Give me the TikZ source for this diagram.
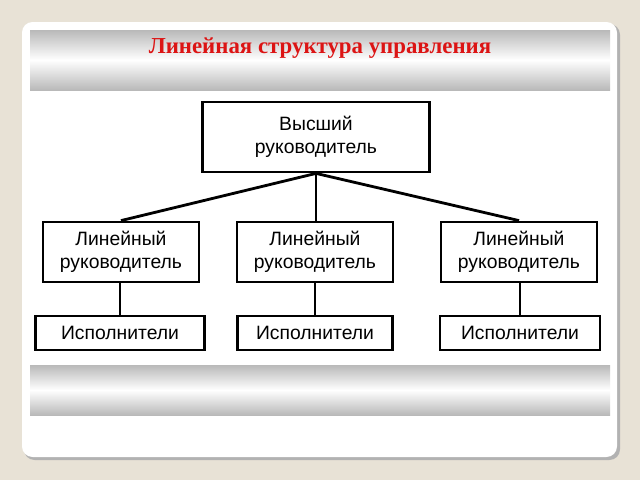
\documentclass[tikz,border=0pt]{standalone}
\usepackage{fontspec}
\setmainfont{Liberation Serif}
\setsansfont{Liberation Sans}
\definecolor{paper}{RGB}{232,226,214}
\definecolor{titlered}{RGB}{220,20,20}
\tikzstyle{post}=[draw, line width=1.6pt, fill=white, text centered,
	font=\sffamily\fontsize{11}{13}\selectfont, inner sep=0pt]
\tikzstyle{boss}=[post, minimum width=4.54cm, minimum height=1.4cm]
\tikzstyle{chief}=[post, minimum width=3.12cm, minimum height=1.2cm]
\tikzstyle{crew}=[post, minimum width=3.2cm, minimum height=0.68cm]
\tikzstyle{line}=[draw, line width=1.6pt]
\tikzstyle{band}=[top color=gray!55, bottom color=gray!55, middle color=white]
\begin{document}
\begin{tikzpicture}[x=0.02cm,y=-0.02cm]
	\useasboundingbox (0,0) rectangle (640,480);
	\fill[paper] (0,0) rectangle (640,480);
	% Card and shaded bands
	\fill[gray!60] (24,24) [rounded corners=6pt] rectangle (620,460);
	\fill[white] (22,22) [rounded corners=6pt] rectangle (617,457);
	\shade[band] (30,30) rectangle (610,90);
	\shade[band] (30,365) rectangle (610,415);
	\path (320,48) node (title) [text=titlered, font=\bfseries\fontsize{13}{15}\selectfont]
		{Линейная структура управления};
	
	\path (316,137) node (top) [boss, align=center] {Высший\\ руководитель};
	\path (121,252) node (c1) [chief, align=center] {Линейный\\ руководитель};
	\path (315,252) node (c2) [chief, align=center] {Линейный\\ руководитель};
	\path (519,252) node (c3) [chief, align=center] {Линейный\\ руководитель};
	\path (120,333) node (e1) [crew, minimum width=3.38cm] {Исполнители};
	\path (315,333) node (e2) [crew, minimum width=3.1cm] {Исполнители};
	\path (520,333) node (e3) [crew] {Исполнители};
	
	% Draw lines between elements
	\path [line] (top.south) -- (c1.north);
	\path [line] (top.south) -- (c2.north -| top.south);
	\path [line] (top.south) -- (c3.north);
	\path [line] (c1.south -| e1) -- (e1.north);
	\path [line] (c2.south) -- (e2.north);
	\path [line] (c3.south -| e3) -- (e3.north);
	
\end{tikzpicture}
\end{document}
